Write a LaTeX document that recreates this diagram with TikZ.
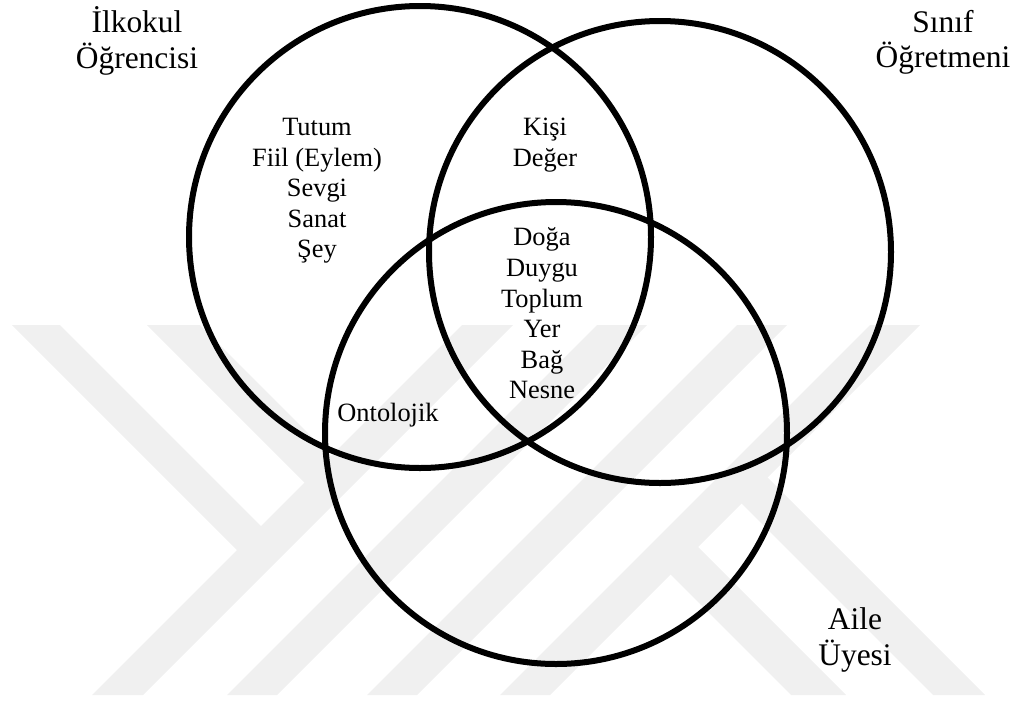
\documentclass[tikz,border=0pt]{standalone}
\usepackage{fontspec}
\setmainfont{Liberation Serif}
\begin{document}
\begin{tikzpicture}[x=0.75pt,y=-0.75pt,
  ring/.style={line width=4.5pt, draw=black},
  titletext/.style={font=\fontsize{23.6}{27}\selectfont, anchor=base, inner sep=0pt},
  itemtext/.style={font=\fontsize{19.8}{23}\selectfont, anchor=base, inner sep=0pt},
  wm/.style={fill=black!6, draw=none}]
\useasboundingbox (0,0) rectangle (1016,700);
% watermark
\begin{scope}
  \clip (0,325) rectangle (1016,695);
  \fill[wm] (462,325) -- (513,325) -- (143,695) -- (92,695) -- cycle;
  \fill[wm] (597,325) -- (647,325) -- (277,695) -- (227,695) -- cycle;
  \fill[wm] (737,325) -- (787,325) -- (417,695) -- (367,695) -- cycle;
  \fill[wm] (870,325) -- (920,325) -- (550,695) -- (500,695) -- cycle;
  \fill[wm] (12,325) -- (60,325) -- (267.5,532.5) -- (243.5,556.5) -- cycle;
  \fill[wm] (147,325) -- (200,325) -- (337.5,462.5) -- (311,489) -- cycle;
  \fill[wm] (668,572) -- (695.5,544.5) -- (846,695) -- (791,695) -- cycle;
  \fill[wm] (739,501) -- (765,475) -- (985,695) -- (933,695) -- cycle;
\end{scope}
% circles
\draw[ring] (420,237) circle[radius=231];
\draw[ring] (660,252) circle[radius=231];
\draw[ring] (556,433) circle[radius=231];
% titles
\node[titletext] (t1a) at (137,32) {İlkokul};
\node[titletext] (t1b) at (137,68) {Öğrencisi};
\node[titletext] (t2a) at (943,32) {Sınıf};
\node[titletext] (t2b) at (943,67) {Öğretmeni};
\node[titletext] (t3a) at (855,629) {Aile};
\node[titletext] (t3b) at (855,665) {Üyesi};
% region 1
\node[itemtext] (a1) at (317,135) {Tutum};
\node[itemtext] (a2) at (317,166) {Fiil (Eylem)};
\node[itemtext] (a3) at (317,196) {Sevgi};
\node[itemtext] (a4) at (317,227) {Sanat};
\node[itemtext] (a5) at (317,257) {Şey};
% region 1-2
\node[itemtext] (b1) at (545,135) {Kişi};
\node[itemtext] (b2) at (545,166) {Değer};
% center region
\node[itemtext] (c1) at (542,245) {Doğa};
\node[itemtext] (c2) at (542,276) {Duygu};
\node[itemtext] (c3) at (542,307) {Toplum};
\node[itemtext] (c4) at (542,337) {Yer};
\node[itemtext] (c5) at (542,368) {Bağ};
\node[itemtext] (c6) at (542,398) {Nesne};
% region 1-3
\node[itemtext] (d1) at (388,421) {Ontolojik};
\end{tikzpicture}
\end{document}
